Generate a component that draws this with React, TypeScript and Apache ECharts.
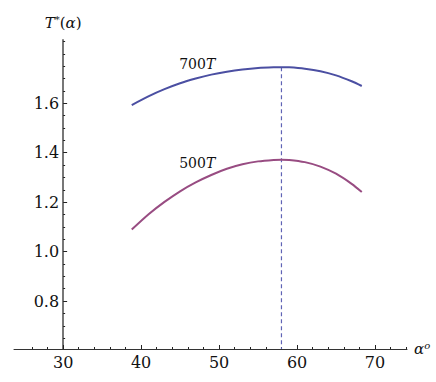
import React, { useEffect, useRef } from "react";
import * as echarts from "echarts";

// Curves: alpha (deg) and T*
const alphas = [38.8, 41, 43, 45, 47, 49, 51, 53, 55, 57, 58, 59, 61, 63, 65, 67, 68.3];
const t700 = [1.593, 1.629, 1.657, 1.681, 1.7, 1.716, 1.728, 1.737, 1.743, 1.7457, 1.746, 1.7454, 1.74, 1.73, 1.713, 1.689, 1.67];
const t500 = [1.089, 1.152, 1.201, 1.244, 1.28, 1.31, 1.335, 1.353, 1.365, 1.371, 1.372, 1.371, 1.362, 1.344, 1.315, 1.274, 1.241];

const peakAlpha = 58;
const peakT = 1.746;

const xTickLabels = [30, 40, 50, 60, 70];
const xMinorTicks = [26, 28, 32, 34, 36, 38, 42, 44, 46, 48, 52, 54, 56, 58, 62, 64, 66, 68, 72, 74];
const yTickLabels = [0.8, 1.0, 1.2, 1.4, 1.6];
const yMinorTicks = [0.65, 0.7, 0.75, 0.85, 0.9, 0.95, 1.05, 1.1, 1.15, 1.25, 1.3, 1.35, 1.45, 1.5, 1.55, 1.65, 1.7, 1.75, 1.8, 1.85];

const xMin = 23.7;
const xMax = 74.1;
const yMin = 0.606;
const yMax = 1.856;
const yAxisAt = 30;

const label700 = { alpha: 47.2, t: 1.759, n: "700" };
const label500 = { alpha: 47.2, t: 1.358, n: "500" };

const SERIF = "DejaVu Serif";

export default function App() {
  const ref = useRef<HTMLDivElement>(null);
  useEffect(() => {
    if (!ref.current) return;
    const chart = echarts.init(ref.current, null, { renderer: "svg" });
    const W = 436;
    const left = 14;
    const right = 29;
    const plotW = W - left - right;
    const yOffset = -((yAxisAt - xMin) / (xMax - xMin)) * plotW;

    const curveLabel = (l: { alpha: number; t: number; n: string }) => ({
      symbol: "circle",
      symbolSize: 0,
      silent: true,
      data: [
        {
          coord: [l.alpha, l.t],
          label: {
            show: true,
            position: "inside",
            formatter: `{n|${l.n}}{t|T}`,
            rich: {
              n: { fontFamily: SERIF, fontSize: 14, color: "#111" },
              t: { fontFamily: SERIF, fontSize: 14, fontStyle: "italic", color: "#111" },
            },
          },
        },
      ],
    });

    const baseX = {
      type: "value",
      min: xMin,
      max: xMax,
      position: "bottom",
      splitLine: { show: false },
    };
    const baseY = {
      type: "value",
      min: yMin,
      max: yMax,
      position: "left",
      offset: yOffset,
      splitLine: { show: false },
    };

    chart.setOption({
      animation: false,
      backgroundColor: "#fff",
      textStyle: { fontFamily: SERIF },
      grid: { left, right, top: 40, bottom: 33, containLabel: false },
      xAxis: [
        {
          ...baseX,
          axisLine: { show: true, onZero: false, lineStyle: { color: "#333", width: 1 } },
          axisTick: { show: true, inside: true, length: 4, customValues: xTickLabels, lineStyle: { color: "#222" } },
          axisLabel: {
            show: true,
            customValues: xTickLabels,
            fontFamily: SERIF,
            fontSize: 16,
            color: "#111",
            margin: 5,
          },
          name: "{a|α}{o|o}",
          nameLocation: "end",
          nameGap: 7,
          nameTextStyle: {
            fontFamily: SERIF,
            rich: {
              a: { fontFamily: SERIF, fontSize: 15, fontStyle: "italic", color: "#111" },
              o: { fontFamily: SERIF, fontSize: 10, fontStyle: "italic", color: "#111", verticalAlign: "top", padding: [0, 0, 8, 0] },
            },
          },
        },
        {
          ...baseX,
          axisLine: { show: false, onZero: false },
          axisTick: { show: true, inside: true, length: 2, customValues: xMinorTicks, lineStyle: { color: "#222" } },
          axisLabel: { show: false },
        },
      ],
      yAxis: [
        {
          ...baseY,
          axisLine: { show: true, onZero: false, lineStyle: { color: "#777", width: 2 } },
          axisTick: { show: true, inside: true, length: 4, customValues: yTickLabels, lineStyle: { color: "#222" } },
          axisLabel: {
            show: true,
            customValues: yTickLabels,
            formatter: (v: number) => v.toFixed(1),
            fontFamily: SERIF,
            fontSize: 16,
            color: "#111",
            margin: 4,
          },
          name: "{t|T}{s|*}{p|(}{a|α}{p|)}",
          nameLocation: "end",
          nameGap: 8,
          nameTextStyle: {
            fontFamily: SERIF,
            rich: {
              t: { fontFamily: SERIF, fontSize: 15, fontStyle: "italic", color: "#111" },
              s: { fontFamily: SERIF, fontSize: 10, color: "#111", verticalAlign: "top", padding: [0, 0, 8, 0] },
              p: { fontFamily: SERIF, fontSize: 15, color: "#111" },
              a: { fontFamily: SERIF, fontSize: 15, fontStyle: "italic", color: "#111" },
            },
          },
        },
        {
          ...baseY,
          axisLine: { show: false, onZero: false },
          axisTick: { show: true, inside: true, length: 2, customValues: yMinorTicks, lineStyle: { color: "#222" } },
          axisLabel: { show: false },
        },
      ],
      series: [
        {
          name: "peak",
          type: "line",
          xAxisIndex: 0,
          yAxisIndex: 0,
          symbol: "none",
          silent: true,
          data: [
            [peakAlpha, peakT],
            [peakAlpha, yMin],
          ],
          lineStyle: { color: "#5f63b5", width: 1.2, type: [4, 3] },
          z: 1,
        },
        {
          name: "700T",
          type: "line",
          xAxisIndex: 0,
          yAxisIndex: 0,
          smooth: 0.3,
          symbol: "none",
          data: alphas.map((a, i) => [a, t700[i]]),
          lineStyle: { color: "#4b4fa2", width: 2 },
          markPoint: curveLabel(label700),
          z: 3,
        },
        {
          name: "500T",
          type: "line",
          xAxisIndex: 0,
          yAxisIndex: 0,
          smooth: 0.3,
          symbol: "none",
          data: alphas.map((a, i) => [a, t500[i]]),
          lineStyle: { color: "#984c82", width: 2 },
          markPoint: curveLabel(label500),
          z: 3,
        },
      ],
    });
    return () => chart.dispose();
  }, []);
  return (
    <div
      ref={ref}
      style={{ position: "fixed", left: 0, top: 0, width: 436, height: 382, background: "#fff" }}
    />
  );
}
